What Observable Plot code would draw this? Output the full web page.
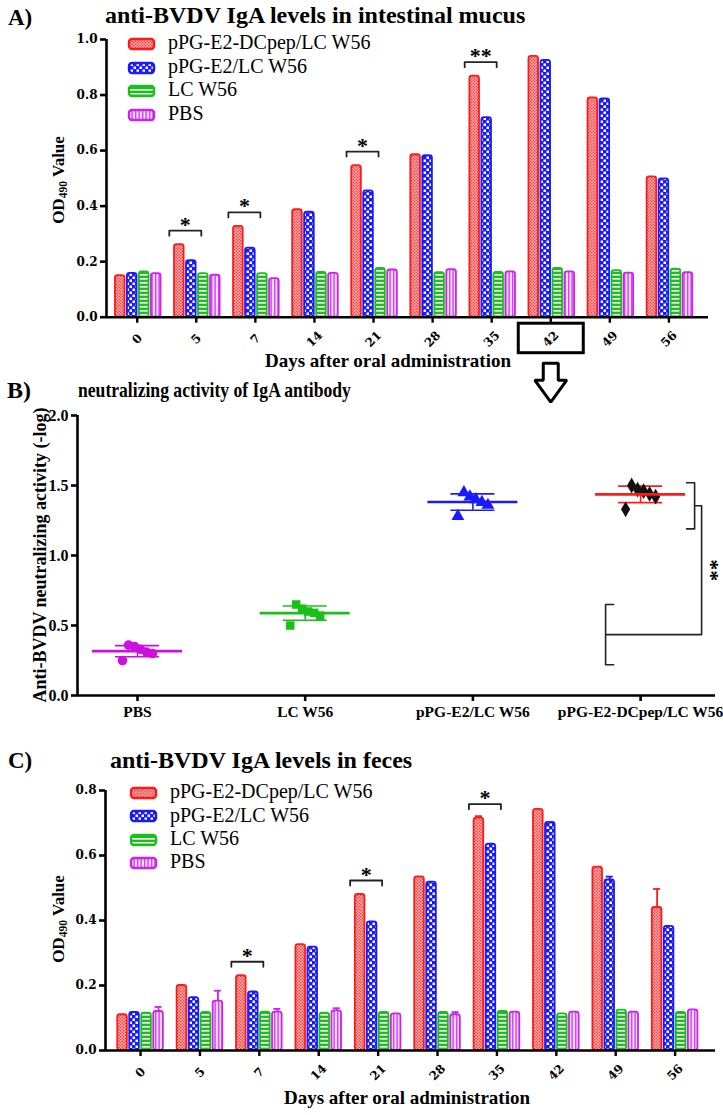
<!DOCTYPE html>
<html><head><meta charset="utf-8">
<script src="https://cdn.jsdelivr.net/npm/d3@7"></script>
<script src="https://cdn.jsdelivr.net/npm/@observablehq/plot@0.6"></script>
<style>
body{margin:0;background:#fff}
#page{position:relative;width:723px;height:1115px;overflow:hidden;background:#fff;font-family:"Liberation Serif","Times New Roman",serif;color:#000}
.lbl{position:absolute;white-space:nowrap;line-height:1;font-weight:bold}
.leg{position:absolute;white-space:nowrap;line-height:1;font-size:20px}
.plot{position:absolute;left:0}
.rot{position:absolute;white-space:nowrap;line-height:1;font-weight:bold;transform:translate(-50%,-50%) rotate(-90deg)}
sub{font-size:0.68em;vertical-align:-0.28em;line-height:0}
</style></head><body>
<div id="page">
<svg width="0" height="0" style="position:absolute"><defs>
<pattern id="pRed" width="3" height="3" patternUnits="userSpaceOnUse"><rect width="3" height="3" fill="#ffc4c4"/><rect width="1.5" height="1.5" fill="#ff3b3b"/><rect x="1.5" y="1.5" width="1.5" height="1.5" fill="#ff3b3b"/></pattern>
<pattern id="pBlue" width="6" height="6" patternUnits="userSpaceOnUse"><rect width="6" height="6" fill="#1a1aff"/><rect x="0.5" y="0.5" width="2.5" height="2.5" fill="#fff"/><rect x="3.5" y="3.5" width="2.5" height="2.5" fill="#fff"/></pattern>
<pattern id="pGreen" width="4" height="4" patternUnits="userSpaceOnUse"><rect width="4" height="4" fill="#19c019"/><rect y="2" width="4" height="1.6" fill="#fff"/></pattern>
<pattern id="pMag" width="3.5" height="4" patternUnits="userSpaceOnUse"><rect width="3.5" height="4" fill="#fbe6ff"/><rect x="1" width="1.3" height="4" fill="#cc22ee"/></pattern>
</defs></svg>
</div>
<script>
// ---------- data ----------
const days = ["0","5","7","14","21","28","35","42","49","56"];
const seriesNames = ["pPG-E2-DCpep/LC W56","pPG-E2/LC W56","LC W56","PBS"];

// Panel A: anti-BVDV IgA in intestinal mucus (OD490)
const mucusDCpep = [0.150,0.261,0.327,0.387,0.546,0.585,0.868,0.939,0.790,0.505];
const mucusE2    = [0.158,0.204,0.249,0.378,0.455,0.582,0.719,0.925,0.786,0.498];
const mucusLC    = [0.163,0.157,0.157,0.161,0.176,0.160,0.161,0.176,0.168,0.173];
const mucusPBS   = [0.157,0.151,0.139,0.158,0.170,0.171,0.163,0.163,0.159,0.160];
const mucusSig   = [{day:"5",label:"*"},{day:"7",label:"*"},{day:"21",label:"*"},{day:"35",label:"**"}];

// Panel C: anti-BVDV IgA in feces (OD490)
const fecesDCpep = [0.110,0.200,0.230,0.326,0.480,0.534,0.715,0.742,0.564,0.440];
const fecesE2    = [0.117,0.163,0.180,0.318,0.396,0.518,0.635,0.702,0.525,0.382];
const fecesLC    = [0.115,0.117,0.118,0.115,0.117,0.117,0.120,0.113,0.124,0.117];
const fecesPBS   = [0.120,0.152,0.118,0.122,0.113,0.110,0.118,0.118,0.118,0.125];
const fecesErrDCpep = [0,0,0,0,0,0,0.006,0,0,0.057];
const fecesErrE2    = [0,0,0,0,0,0,0,0,0.010,0];
const fecesErrLC    = [0,0,0,0,0,0,0,0,0,0];
const fecesErrPBS   = [0.014,0.032,0.010,0.008,0,0.008,0,0,0,0];
const fecesSig   = [{day:"7",label:"*"},{day:"21",label:"*"},{day:"35",label:"*"}];

// Panel B: neutralizing activity (-log)
const bGroups = ["PBS","LC W56","pPG-E2/LC W56","pPG-E2-DCpep/LC W56"];
const neutPBS   = [0.25,0.30,0.31,0.33,0.35,0.36];
const neutLC    = [0.50,0.57,0.59,0.60,0.62,0.65];
const neutE2    = [1.28,1.36,1.38,1.40,1.42,1.45];
const neutDCpep = [1.33,1.42,1.44,1.46,1.47,1.50];

// ---------- styling ----------
const patIds = ["pRed","pBlue","pGreen","pMag"];
const colors = ["#ff1a1a","#1a1aff","#19c019","#cc22ee"];
const page = document.getElementById("page");
const tickFont = {fontFamily:"DejaVu Serif", fontWeight:"bold", fontSize:12};

function addDiv(cls, html, style){
  const d = document.createElement("div");
  d.className = cls; d.innerHTML = html;
  Object.assign(d.style, style);
  page.appendChild(d); return d;
}
function place(svg, top){
  const w = document.createElement("div");
  w.className = "plot"; w.style.top = top + "px";
  w.appendChild(svg); page.appendChild(w);
}

function barPanel(cfg){
  const {series, errs, sigs, yDomain, yTicks, xDomain, height, mt, mb, ml, mr, shiftPx, annot} = cfg;
  const width = 723;
  const pxX = (width - ml - mr) / (xDomain[1] - xDomain[0]);
  const pxY = (height - mt - mb) / (yDomain[1] - yDomain[0]);
  const ux = p => p / pxX, uy = p => p / pxY;
  const pitch = ux(12), bw = ux(9.6), shift = ux(shiftPx);
  const idx = d3.range(days.length);
  const marks = [];
  series.forEach((vals, s) => {
    const rows = vals.map((v, i) => ({i, v, e: errs ? errs[s][i] : 0}));
    const cx = r => r.i + shift + (s - 1.5) * pitch;
    marks.push(Plot.rect(rows, {x1: r => cx(r) - bw/2, x2: r => cx(r) + bw/2, y1: () => 0, y2: "v",
      fill: `url(#${patIds[s]})`, stroke: colors[s], strokeWidth: 1.8, rx: 2.5}));
    const er = rows.filter(r => r.e > 0);
    marks.push(Plot.ruleX(er, {x: cx, y1: "v", y2: r => r.v + r.e, stroke: colors[s], strokeWidth: 1.8}));
    marks.push(Plot.ruleY(er, {y: r => r.v + r.e, x1: r => cx(r) - ux(3.5), x2: r => cx(r) + ux(3.5), stroke: colors[s], strokeWidth: 1.8}));
  });
  // significance brackets
  const br = [];
  const sr = sigs.map((g, k) => {
    const i = days.indexOf(g.day);
    const y = Math.max(series[0][i], series[1][i]) + uy(14);
    const a = i + shift - ux(28), b = i + shift + ux(4);
    br.push({k, x: a, y: y - uy(5)}, {k, x: a, y}, {k, x: b, y}, {k, x: b, y: y - uy(5)});
    return {x: (a + b) / 2, y, label: g.label};
  });
  marks.push(Plot.line(br, {x: "x", y: "y", z: "k", stroke: "#222", strokeWidth: 1.8}));
  marks.push(Plot.text(sr, {x: "x", y: "y", text: "label", fontSize: 22, fontWeight: "bold", fontFamily: "Liberation Serif", dy: -6}));
  // axes
  marks.push(Plot.ruleX([xDomain[0]], {strokeWidth: 2.6}));
  marks.push(Plot.ruleY([yDomain[0]], {strokeWidth: 2.6}));
  marks.push(Plot.ruleX(idx, {x: d => d, y1: () => yDomain[0], y2: () => yDomain[0] - uy(6), strokeWidth: 2.4}));
  marks.push(Plot.axisY(yTicks, {tickFormat: d => d.toFixed(1), tickSize: 6, tickPadding: 3, strokeWidth: 2.6, label: null, ...tickFont}));
  marks.push(Plot.text(days, {x: (d, i) => i, y: () => yDomain[0], text: d => d, dy: 22, rotate: -45, ...tickFont}));
  if (annot) {
    const i = days.indexOf(annot);
    marks.push(Plot.rect([i], {x1: d => d - ux(32), x2: d => d + ux(33), y1: () => -uy(6.5), y2: () => -uy(36), fill: "none", stroke: "black", strokeWidth: 3}));
    const cxA = i, top = -uy(46);
    const P = (dx, dy) => ({x: cxA + ux(dx), y: top - uy(dy)});
    const arrow = [P(-7.5,0),P(7.5,0),P(7.5,17),P(16,17),P(0,39),P(-16,17),P(-7.5,17),P(-7.5,0)];
    marks.push(Plot.line(arrow, {x: "x", y: "y", stroke: "black", strokeWidth: 3, strokeLinejoin: "miter"}));
  }
  return Plot.plot({width, height, marginTop: mt, marginBottom: mb, marginLeft: ml, marginRight: mr,
    x: {domain: xDomain, axis: null}, y: {domain: yDomain},
    style: {background: "transparent", overflow: "visible", fontFamily: "Liberation Serif"},
    marks});
}

function legend(left, textLeft, baselines){
  seriesNames.forEach((n, s) => {
    const b = baselines[s];
    addDiv("leg", `<svg width="30" height="16" style="display:block"><rect x="2" y="3" width="25" height="10" rx="3" fill="url(#${patIds[s]})" stroke="${colors[s]}" stroke-width="2.4"/></svg>`,
      {left: (left - 2) + "px", top: (b - 5 - 8) + "px"});
    addDiv("leg", n, {left: textLeft + "px", top: (b - 16.75) + "px"});
  });
}

// ---------- Panel A ----------
place(barPanel({series: [mucusDCpep, mucusE2, mucusLC, mucusPBS], errs: null, sigs: mucusSig,
  yDomain: [0, 1.0], yTicks: [0, 0.2, 0.4, 0.6, 0.8, 1.0], xDomain: [-0.52, 9.67],
  height: 390, mt: 39, mb: 73.3, ml: 106, mr: 15, shiftPx: 1, annot: "42"}), 0);
addDiv("lbl", "A)", {left: "8px", top: "6px", fontSize: "23px"});
addDiv("lbl", "anti-BVDV IgA levels in intestinal mucus", {left: "105px", top: "3px", fontSize: "24px"});
legend(129, 168, [49, 72.5, 96, 119.5]);
addDiv("rot", "OD<sub>490</sub> Value", {left: "58px", top: "180px", fontSize: "17px"});
addDiv("lbl", "Days after oral administration", {left: "388px", top: "351px", fontSize: "19px", transform: "translateX(-50%)"});

// ---------- Panel B ----------
(function(){
  const ml = 77, mr = 8, width = 723, height = 340, mt = 20, mb = 40;
  const c0 = 137, step = 167.7;
  const xDomain = [(ml - c0) / step, (width - mr - c0) / step];
  const ux = p => p / step;
  const vals = [neutPBS, neutLC, neutE2, neutDCpep];
  const bColors = ["#cc11dd", "#19c019", "#1a1aff", "#ff1a1a"];
  const bFill = ["#cc11dd", "#19c019", "#1a1aff", "#111"];
  const symbols = ["circle", "square", "triangle", "diamond"];
  const pts = vals.flatMap((vs, g) => vs.map((v, k) => ({g, k, v})));
  const off = k => ((k * 5) % 6 - 2.5) * ux(6);
  const stats = vals.map((vs, g) => ({g, m: d3.mean(vs), sd: d3.deviation(vs)}));
  const up = [d3.max(neutDCpep) + 0.02, d3.min(neutDCpep) - 0.14];
  const low = [d3.max(neutLC), d3.min(neutPBS) - 0.03];
  const upMid = (up[0] + up[1]) / 2, lowMid = (low[0] + low[1]) / 2;
  const xu = 3 + ux(54), xc = 3 + ux(61), xl = 3 - ux(35), t = ux(8);
  const brk = [
    {k: 0, x: xu - t, y: up[0]}, {k: 0, x: xu, y: up[0]}, {k: 0, x: xu, y: up[1]}, {k: 0, x: xu - t, y: up[1]},
    {k: 1, x: xl + t, y: low[0]}, {k: 1, x: xl, y: low[0]}, {k: 1, x: xl, y: low[1]}, {k: 1, x: xl + t, y: low[1]},
    {k: 2, x: xu, y: upMid}, {k: 2, x: xc, y: upMid}, {k: 2, x: xc, y: lowMid}, {k: 2, x: xl, y: lowMid}
  ];
  const marks = [
    Plot.ruleX([xDomain[0]], {strokeWidth: 2.6}),
    Plot.ruleY([0], {strokeWidth: 2.6}),
    Plot.axisY([0, 0.5, 1.0, 1.5, 2.0], {tickFormat: d => d.toFixed(1), tickSize: 6, tickPadding: 3, strokeWidth: 2.6, label: null, fontSize: 16, fontWeight: "bold", fontFamily: "Liberation Serif"}),
    Plot.axisX([0, 1, 2, 3], {tickFormat: i => bGroups[i], tickSize: 6, tickPadding: 4, strokeWidth: 2.6, label: null, fontSize: 15.5, fontWeight: "bold", fontFamily: "Liberation Serif"}),
    Plot.ruleX(stats, {x: "g", y1: d => d.m - d.sd, y2: d => d.m + d.sd, stroke: d => bColors[d.g], strokeWidth: 1.6}),
    Plot.ruleY(stats, {y: d => d.m + d.sd, x1: d => d.g - ux(22), x2: d => d.g + ux(22), stroke: d => bColors[d.g], strokeWidth: 1.6}),
    Plot.ruleY(stats, {y: d => d.m - d.sd, x1: d => d.g - ux(22), x2: d => d.g + ux(22), stroke: d => bColors[d.g], strokeWidth: 1.6}),
    Plot.dot(pts, {x: d => d.g + off(d.k), y: "v", symbol: d => symbols[d.g], fill: d => bFill[d.g], r: 4.8}),
    Plot.ruleY(stats, {y: "m", x1: d => d.g - ux(45), x2: d => d.g + ux(45), stroke: d => bColors[d.g], strokeWidth: 2.6}),
    Plot.line(brk, {x: "x", y: "y", z: "k", stroke: "#222", strokeWidth: 1.6}),
    Plot.text([{x: 3 + ux(70), y: (upMid + lowMid) / 2}], {x: "x", y: "y", text: () => "**", rotate: 90, fontSize: 22, fontWeight: "bold"})
  ];
  place(Plot.plot({width, height, marginTop: mt, marginBottom: mb, marginLeft: ml, marginRight: mr,
    x: {domain: xDomain}, y: {domain: [0, 2]},
    color: {type: "identity"}, symbol: {type: "identity"},
    style: {background: "transparent", overflow: "visible", fontFamily: "Liberation Serif"},
    marks}), 395);
})();
addDiv("lbl", "B)", {left: "7px", top: "378px", fontSize: "24px"});
addDiv("lbl", "neutralizing activity of IgA antibody", {left: "78px", top: "379px", fontSize: "22px", transform: "scaleX(0.8)", transformOrigin: "0 0"});
addDiv("rot", "Anti-BVDV neutralizing activity (-log)", {left: "40px", top: "555px", fontSize: "18px"});

// ---------- Panel C ----------
place(barPanel({series: [fecesDCpep, fecesE2, fecesLC, fecesPBS],
  errs: [fecesErrDCpep, fecesErrE2, fecesErrLC, fecesErrPBS], sigs: fecesSig,
  yDomain: [0, 0.8], yTicks: [0, 0.2, 0.4, 0.6, 0.8], xDomain: [-0.59, 9.68],
  height: 355, mt: 30, mb: 65, ml: 105, mr: 8, shiftPx: 0, annot: null}), 760);
addDiv("lbl", "C)", {left: "8px", top: "749px", fontSize: "23px"});
addDiv("lbl", "anti-BVDV IgA levels in feces", {left: "110px", top: "748px", fontSize: "24px"});
legend(131, 170, [798, 821.3, 844.6, 868]);
addDiv("rot", "OD<sub>490</sub> Value", {left: "58px", top: "919px", fontSize: "17px"});
addDiv("lbl", "Days after oral administration", {left: "407px", top: "1088px", fontSize: "19px", transform: "translateX(-50%)"});
</script>
</body></html>
